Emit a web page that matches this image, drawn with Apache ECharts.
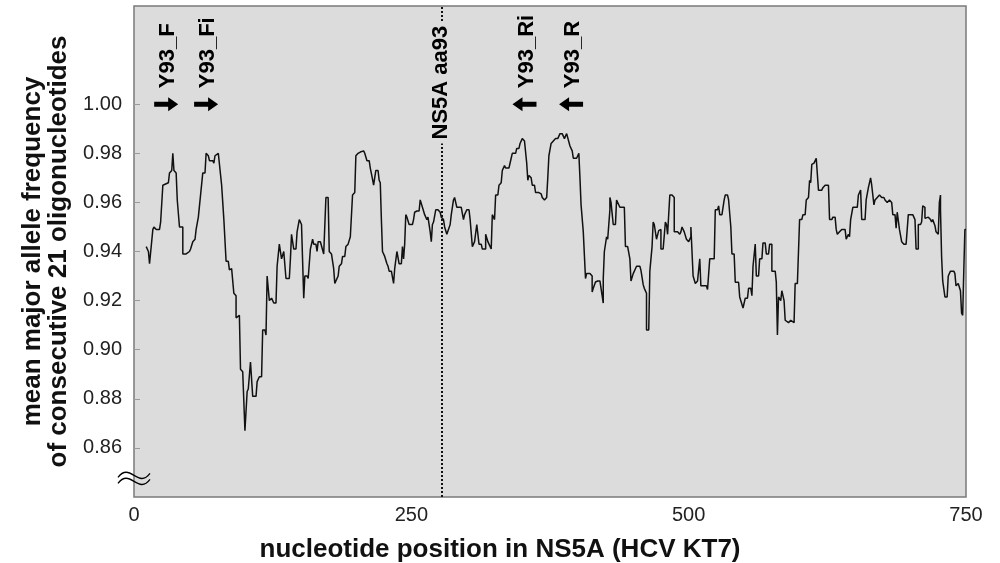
<!DOCTYPE html>
<html>
<head>
<meta charset="utf-8">
<script src="https://cdn.jsdelivr.net/npm/echarts@6/dist/echarts.min.js"></script>
<style>
html, body { margin: 0; background: #fff; }
#chart { width: 1000px; height: 563px; }
</style>
</head>
<body>
<div id="chart"></div>
<script>
// nucleotide position (centre of the 21-mer window)
const positions = [
    11, 13, 14, 17, 18, 20, 23, 24, 25, 26, 31, 32, 34, 35, 36, 38, 39, 41, 44, 44,
    47, 50, 51, 53, 55, 56, 58, 59, 62, 64, 65, 67, 68, 71, 72, 73, 76, 77, 79, 80,
    81, 82, 83, 85, 86, 88, 90, 92, 92, 95, 96, 98, 100, 101, 102, 103, 105, 106, 107, 110,
    111, 113, 115, 116, 118, 119, 120, 122, 124, 126, 128, 129, 130, 131, 132, 133, 135, 136, 137, 140,
    141, 142, 142, 144, 146, 147, 149, 150,
    151, 153, 154, 156, 157, 159, 160, 161, 162, 164, 165, 166, 168, 169, 171, 172, 173, 175, 176, 177,
    178, 180, 181, 182, 184, 185, 187, 188, 190, 191, 193, 195, 196, 197, 199, 200, 202, 204, 207, 208,
    210, 212, 213, 215, 216, 218, 220, 221, 222, 223, 224, 226, 228, 229, 230, 232, 234, 235, 237, 238,
    239, 241, 242, 243, 244, 245, 246, 248, 249, 251, 252, 253, 255, 257, 258, 260, 261, 262, 264, 265,
    267, 268, 269, 270, 272, 274, 276, 277, 279, 280, 282, 283, 285, 286, 288, 289, 291, 293, 295, 297,
    298, 300,
    302, 303, 304, 305, 307, 308, 309, 310, 311, 313, 314, 315, 317, 317, 319, 320, 322, 323, 325, 326,
    328, 329, 331, 332, 334, 335, 338, 340, 341, 344, 345, 347, 348, 349, 350, 352, 353, 354, 355, 356,
    358, 359, 361, 362, 365, 367, 368, 370, 371, 372, 373, 374, 376, 378, 380, 382, 384, 386, 388, 390,
    391, 393, 395, 396, 399, 401, 402, 403, 404, 405, 406, 407, 408, 411, 413, 413, 414, 416, 418, 420,
    421, 423, 423, 424, 426, 427, 429, 429, 430, 432, 434, 435, 436, 438, 440, 442, 443, 445, 447, 448,
    450,
    452, 453, 456, 457, 459, 460, 462, 462, 464, 465, 466, 467, 468, 469, 471, 472, 473, 475, 475, 477,
    478, 479, 480, 481, 483, 485, 487, 487, 490, 492, 493, 494, 496, 497, 498, 500, 502, 502, 504, 505,
    506, 508, 510, 511, 514, 516, 517, 519, 521, 523, 524, 526, 527, 528, 530, 532, 533, 535, 536, 538,
    539, 541, 542, 545, 546, 547, 549, 551, 553, 554, 556, 557, 558, 560, 561, 563, 564, 566, 567, 569,
    570, 572, 573, 575, 575, 578, 579, 580, 581, 583, 584, 586, 587, 590, 592, 593, 595, 596, 598,
    600, 602, 603, 605, 606, 608, 609, 610, 611, 613, 615, 616, 617, 620, 621, 623, 626, 627, 629, 630,
    632, 633, 634, 636, 638, 641, 642, 644, 645, 646, 648, 650, 652, 653, 655, 656, 657, 659, 660, 661,
    662, 664, 665, 667, 668, 670, 672, 674, 676, 677, 679, 681, 683, 684, 686, 687, 688, 689, 690, 692,
    694, 696, 698, 699, 702, 704, 705, 707, 707, 709, 710, 711, 713, 713, 716, 718, 719, 720, 722, 723,
    725, 726, 727, 727, 728, 729, 730, 731, 733, 734, 736, 739, 740, 741, 742, 743, 745, 746, 747, 748,
    749, 750
]

// mean major allele frequency, same order as positions
const freq = [
    .942, .940, .935, .949, .950, .949, .949, .952, .952, .967, .968, .972, .973, .980, .973, .972, .961, .950, .950, .939,
    .939, .940, .941, .944, .945, .949, .954, .954, .972, .972, .980, .979, .977, .977, .976, .979, .980, .980, .967, .960,
    .953, .953, .936, .936, .9325, .933, .923, .922, .913, .914, .892, .891, .867, .875, .883, .884, .895, .895, .881, .881,
    .887, .889, .889, .908, .908, .906, .930, .920, .921, .919, .919, .934, .934, .943, .943, .937, .940, .940, .929, .929,
    .937, .937, .947, .941, .941, .948, .953, .952,
    .951, .921, .930, .930, .929, .941, .941, .945, .943, .943, .940, .944, .944, .944, .939, .939, .962, .962, .940, .940,
    .939, .933, .927, .927, .930, .934, .935, .938, .938, .942, .943, .946, .9465, .963, .964, .979, .980, .9805, .981, .980,
    .977, .977, .974, .9695, .967, .973, .973, .969, .968, .953, .940, .938, .935, .934, .932, .932, .927, .933, .940, .940,
    .935, .935, .942, .937, .943, .955, .954, .951, .951, .951, .953, .956, .9565, .9565, .961, .958, .958, .955, .953, .954,
    .948, .944, .951, .952, .957, .957, .956, .954, .953, .950, .947, .947, .951, .955, .961, .962, .958, .958, .958, .953,
    .955, .957,
    .957, .953, .953, .942, .944, .944, .951, .951, .943, .943, .941, .941, .941, .947, .944, .943, .941, .955, .953, .963,
    .963, .967, .968, .973, .975, .974, .974, .978, .980, .980, .982, .982, .984, .984, .986, .985, .985, .976, .969, .971,
    .970, .967, .967, .964, .964, .9635, .962, .961, .961, .962, .970, .979, .984, .985, .986, .986, .988, .988, .986, .988,
    .988, .983, .981, .978, .978, .980, .970, .959, .959, .948, .948, .929, .931, .931, .930, .9235, .925, .9276, .928, .928,
    .928, .919, .929, .940, .946, .945, .957, .962, .960, .951, .951, .961, .961, .958, .958, .958, .942, .942, .937, .928,
    .931,
    .933, .934, .934, .9323, .9265, .925, .923, .908, .908, .932, .932, .942, .952, .951, .945, .945, .9485, .949, .941, .941,
    .941, .952, .951, .947, .963, .963, .962, .948, .948, .947, .948, .950, .948, .948, .945, .944, .946, .950, .930, .930,
    .927, .928, .937, .926, .926, .926, .9245, .937, .937, .937, .957, .957, .9586, .955, .955, .961, .963, .963, .961, .950,
    .939, .939, .9275, .9275, .9215, .921, .917, .921, .921, .925, .925, .922, .934, .943, .930, .930, .937, .937, .9435, .9435,
    .939, .939, .943, .943, .932, .932, .9275, .906, .9215, .920, .924, .920, .912, .911, .912, .912, .911, .927, .927,
    .953, .953, .955, .955, .961, .962, .969, .968, .9755, .976, .978, .978, .965, .965, .966, .967, .967, .953, .953, .954,
    .954, .949, .947, .948, .949, .949, .945, .947, .946, .953, .958, .958, .958, .963, .965, .953, .953, .953, .961, .961,
    .966, .970, .967, .959, .961, .962, .963, .962, .962, .961, .960, .961, .960, .955, .955, .9495, .956, .956, .949, .944,
    .943, .943, .955, .955, .955, .953, .941, .941, .951, .951, .952, .9586, .958, .9535, .954, .953, .952, .953, .9505, .948,
    .947, .960, .963, .957, .938, .928, .928, .9215, .9215, .930, .932, .932, .931, .926, .926, .927, .924, .915, .914, .932,
    .949, .949
]

const yTicks = [0.86, 0.88, 0.90, 0.92, 0.94, 0.96, 0.98, 1.00]
const xTicks = [0, 250, 500, 750]

// primer annotations at the top
const primerNames = ['Y93_F', 'Y93_Fi', 'Y93_Ri', 'Y93_R']
const primerPos = [29, 65, 352, 394]
const primerDir = ['right', 'right', 'left', 'left']
const ns5aLabel = 'NS5A aa93'
const ns5aPos = 277

const FONT = '"Liberation Sans", Arial, sans-serif'

const chartDom = document.getElementById('chart')
const myChart = echarts.init(chartDom)

const lineData = positions.map((p, i) => [p, freq[i]])

const option = {
    animation: false,
    backgroundColor: '#ffffff',
    grid: {
        left: 134,
        right: 34,
        top: 6,
        bottom: 66,
        outerBoundsMode: 'none',
        show: true,
        backgroundColor: '#dcdcdc',
        borderColor: '#7a7a7a',
        borderWidth: 1.5,
    },
    xAxis: {
        type: 'value',
        min: 0,
        max: 750,
        interval: 250,
        name: 'nucleotide position in NS5A (HCV KT7)',
        nameLocation: 'middle',
        nameGap: 40,
        nameTextStyle: {
            fontFamily: FONT,
            fontWeight: 'bold',
            fontSize: 26,
            color: '#111',
            padding: [0, 100, 0, 0], // centre the title on the page, not on the plot
        },
        axisLine: { show: false },
        axisTick: { show: false },
        splitLine: { show: false },
        axisLabel: {
            customValues: xTicks,
            fontFamily: FONT,
            fontSize: 20,
            color: '#222',
            margin: 8,
        },
    },
    yAxis: {
        type: 'value',
        min: 0.84,
        max: 1.04,
        interval: 0.02,
        name: 'mean major allele frequency\nof consecutive 21 oligonucleotides',
        nameLocation: 'middle',
        nameGap: 62,
        nameMoveOverlap: false,
        nameTextStyle: {
            fontFamily: FONT,
            fontWeight: 'bold',
            fontSize: 26,
            lineHeight: 26,
            color: '#111',
        },
        axisLine: { show: false },
        splitLine: { show: false },
        axisTick: {
            show: true,
            inside: true,
            length: 6,
            customValues: yTicks,
            lineStyle: { color: '#9a9a9a', width: 1 },
        },
        axisLabel: {
            customValues: yTicks,
            formatter: (v) => v.toFixed(2),
            fontFamily: FONT,
            fontSize: 20,
            color: '#222',
            margin: 12,
        },
    },
    series: [
        {
            type: 'line',
            data: lineData,
            showSymbol: false,
            symbol: 'none',
            lineStyle: { color: '#111', width: 1.5 },
            markLine: {
                silent: true,
                symbol: 'none',
                label: { show: false },
                lineStyle: { color: '#111', width: 2, type: [2, 2] },
                data: [{ xAxis: ns5aPos }],
            },
        },
    ],
}
option && myChart.setOption(option)

// annotations: arrows, rotated labels, axis break mark
const arrowPts = (dir) => {
    const s = dir === 'right' ? 1 : -1
    return [[-12 * s, -2.5], [2 * s, -2.5], [2 * s, -7], [12 * s, 0], [2 * s, 7], [2 * s, 2.5], [-12 * s, 2.5]]
}
const graphics = []
primerNames.forEach((name, i) => {
    const pt = myChart.convertToPixel({ gridIndex: 0 }, [primerPos[i], 1.00])
    graphics.push({
        type: 'polygon',
        x: pt[0],
        y: pt[1],
        shape: { points: arrowPts(primerDir[i]) },
        style: { fill: '#000' },
    })
    graphics.push({
        type: 'text',
        x: pt[0] + 2,
        y: pt[1] - 16,
        rotation: Math.PI / 2,
        style: {
            text: name,
            fontFamily: FONT,
            fontWeight: 'bold',
            fontSize: 22,
            fill: '#000',
            align: 'left',
            verticalAlign: 'middle',
        },
    })
})
const nsPt = myChart.convertToPixel({ gridIndex: 0 }, [ns5aPos, 0.984])
graphics.push({
    type: 'text',
    x: nsPt[0],
    y: nsPt[1],
    rotation: Math.PI / 2,
    z: 100,
    style: {
        text: ns5aLabel,
        fontFamily: FONT,
        fontWeight: 'bold',
        fontSize: 22,
        fill: '#000',
        align: 'left',
        verticalAlign: 'middle',
        backgroundColor: '#dcdcdc',
        padding: [3, 4],
    },
})
// the "≈" axis break mark, two S-curves across the left border
const brk = myChart.convertToPixel({ gridIndex: 0 }, [0, 0.848])
;[-2, 4].forEach((dy) => {
    graphics.push({
        type: 'bezierCurve',
        x: brk[0],
        y: brk[1] + dy,
        z: 100,
        shape: { x1: -16, y1: 2, x2: 16, y2: -2, cpx1: -4, cpy1: -14, cpx2: 4, cpy2: 14 },
        style: { fill: null, stroke: '#000', lineWidth: 1.3 },
    })
})
myChart.setOption({ graphic: graphics })
</script>
</body>
</html>
